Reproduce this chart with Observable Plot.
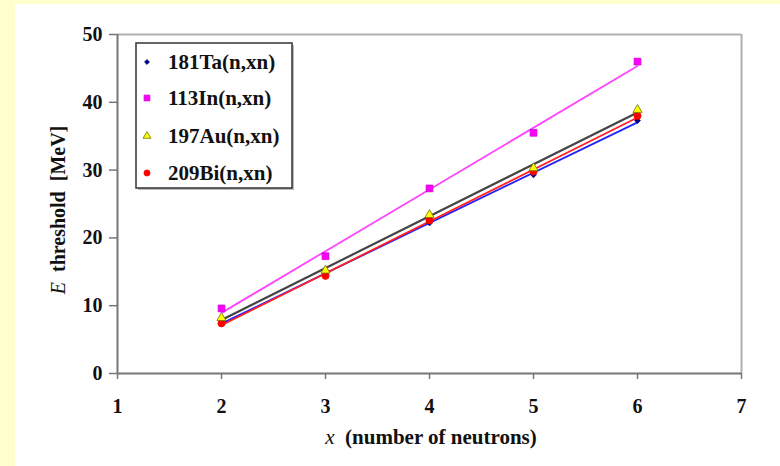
<!DOCTYPE html>
<html>
<head>
<meta charset="utf-8">
<script src="https://cdn.jsdelivr.net/npm/d3@7"></script>
<script src="https://cdn.jsdelivr.net/npm/@observablehq/plot@0.6"></script>
<style>
  html, body { margin: 0; padding: 0; background: #FFFFCC; width: 780px; height: 466px; overflow: hidden; }
  #wrap { position: absolute; left: 15px; top: 4px; width: 765px; height: 462px; background: #ffffff; }
  #wrap svg text { font-family: 'Liberation Serif', 'DejaVu Serif Condensed', 'DejaVu Serif', serif; font-weight: bold; fill: #111; }
  #wrap svg text tspan.it { font-style: italic; font-weight: normal; }
</style>
</head>
<body>
<div id="wrap"></div>
<script>
// ---- data ----
const neutrons = [2, 3, 4, 5, 6];
const seriesNames = ["181Ta(n,xn)", "113In(n,xn)", "197Au(n,xn)", "209Bi(n,xn)"];
const ta = [7.5, 14.7, 22.2, 29.3, 37.3];
const inn = [9.6, 17.3, 27.3, 35.5, 46.0];
const au = [8.2, 15.2, 23.4, 30.3, 38.9];
const bi = [7.4, 14.4, 22.6, 29.8, 38.0];
const xTicks = [1, 2, 3, 4, 5, 6, 7];
const yTicks = [0, 10, 20, 30, 40, 50];

// ---- styles per series ----
const markerFill = ["#000080", "#ff00ff", "#ffff00", "#ff0000"];
const markerStroke = ["#000080", "#cc00cc", "#707000", "#ff0000"];
const markerSymbol = ["diamond2", "square", "triangle", "circle"];
const markerR = [2.6, 3.8, 3.4, 3.6];
const lineColor = ["#2222ff", "#ff44ff", "#444444", "#ff2020"];
const lineWidth = [1.8, 1.8, 2.2, 1.8];

const values = [ta, inn, au, bi];
const table = [];
values.forEach((vals, si) => vals.forEach((v, i) => table.push({series: seriesNames[si], si, x: neutrons[i], y: v})));

const font = "'Liberation Serif', 'DejaVu Serif Condensed', serif";
const W = 765, H = 462;

const marks = [
  Plot.ruleY([50], {stroke: "#b0b0b0", strokeWidth: 2}),
  Plot.ruleX([7], {stroke: "#b0b0b0", strokeWidth: 2}),
  Plot.axisY({ticks: yTicks, tickFormat: d => String(d), tickSize: 8, tickPadding: 7, stroke: "#777", strokeWidth: 1.5, label: null, fill: "#111"}),
  Plot.axisX({ticks: xTicks, tickFormat: d => String(d), tickSize: 6, tickPadding: 19, stroke: "#777", strokeWidth: 1.5, label: null, fill: "#111"}),
  Plot.ruleX([1], {stroke: "#777", strokeWidth: 2}),
  Plot.ruleY([0], {stroke: "#777", strokeWidth: 2})
];
// regression lines: draw Ta, Bi, In, then Au on top
[0, 3, 1, 2].forEach(si => {
  marks.push(Plot.linearRegressionY(table.filter(d => d.si === si), {x: "x", y: "y", ci: 0, stroke: lineColor[si], strokeWidth: lineWidth[si]}));
});
[0, 1, 3, 2].forEach(si => {
  marks.push(Plot.dot(table.filter(d => d.si === si), {x: "x", y: "y", symbol: () => markerSymbol[si], r: markerR[si], fill: markerFill[si], stroke: markerStroke[si], strokeWidth: 0.8}));
});

const chart = Plot.plot({
  width: W,
  height: H,
  marginLeft: 102,
  marginRight: 39,
  marginTop: 30,
  marginBottom: 93,
  x: {domain: [1, 7], axis: null},
  y: {domain: [0, 50], axis: null},
  symbol: {type: "identity"},
  style: {fontFamily: font, fontSize: "20px", background: "white", color: "#111", overflow: "visible"},
  marks
});
document.getElementById("wrap").appendChild(chart);

// ---- titles and legend ----
const svg = d3.select(chart);
const xt = svg.append("text")
  .attr("x", 416).attr("y", 433).attr("dy", "0.35em")
  .attr("text-anchor", "middle")
  .attr("font-size", 21);
xt.append("tspan").attr("class", "it").text("x");
xt.append("tspan").text("\u00a0 (number of neutrons)");

const yt = svg.append("text")
  .attr("transform", "translate(43,206) rotate(-90)")
  .attr("dy", "0.35em")
  .attr("text-anchor", "middle")
  .attr("font-size", 20);
yt.append("tspan").attr("class", "it").text("E");
yt.append("tspan").text("\u00a0 threshold\u00a0 [MeV]");

const lg = svg.append("g");
lg.append("rect").attr("x", 123).attr("y", 41).attr("width", 156).attr("height", 145).attr("fill", "#bbb");
lg.append("rect").attr("x", 121).attr("y", 39).attr("width", 156).attr("height", 145).attr("fill", "white").attr("stroke", "#333").attr("stroke-width", 1.5);
const d3sym = {diamond2: d3.symbolDiamond2, square: d3.symbolSquare, triangle: d3.symbolTriangle, circle: d3.symbolCircle};
const legendY = [58, 94, 132, 169];
seriesNames.forEach((name, si) => {
  const r = markerR[si] * 0.85;
  lg.append("path")
    .attr("d", d3.symbol(d3sym[markerSymbol[si]], Math.PI * r * r)())
    .attr("transform", `translate(132,${legendY[si]})`)
    .attr("fill", markerFill[si]).attr("stroke", markerStroke[si]).attr("stroke-width", 0.8);
  lg.append("text")
    .attr("x", 153).attr("y", legendY[si]).attr("dy", "0.35em")
    .attr("text-anchor", "start")
    .attr("font-size", 21)
    .text(name);
});
</script>
</body>
</html>
